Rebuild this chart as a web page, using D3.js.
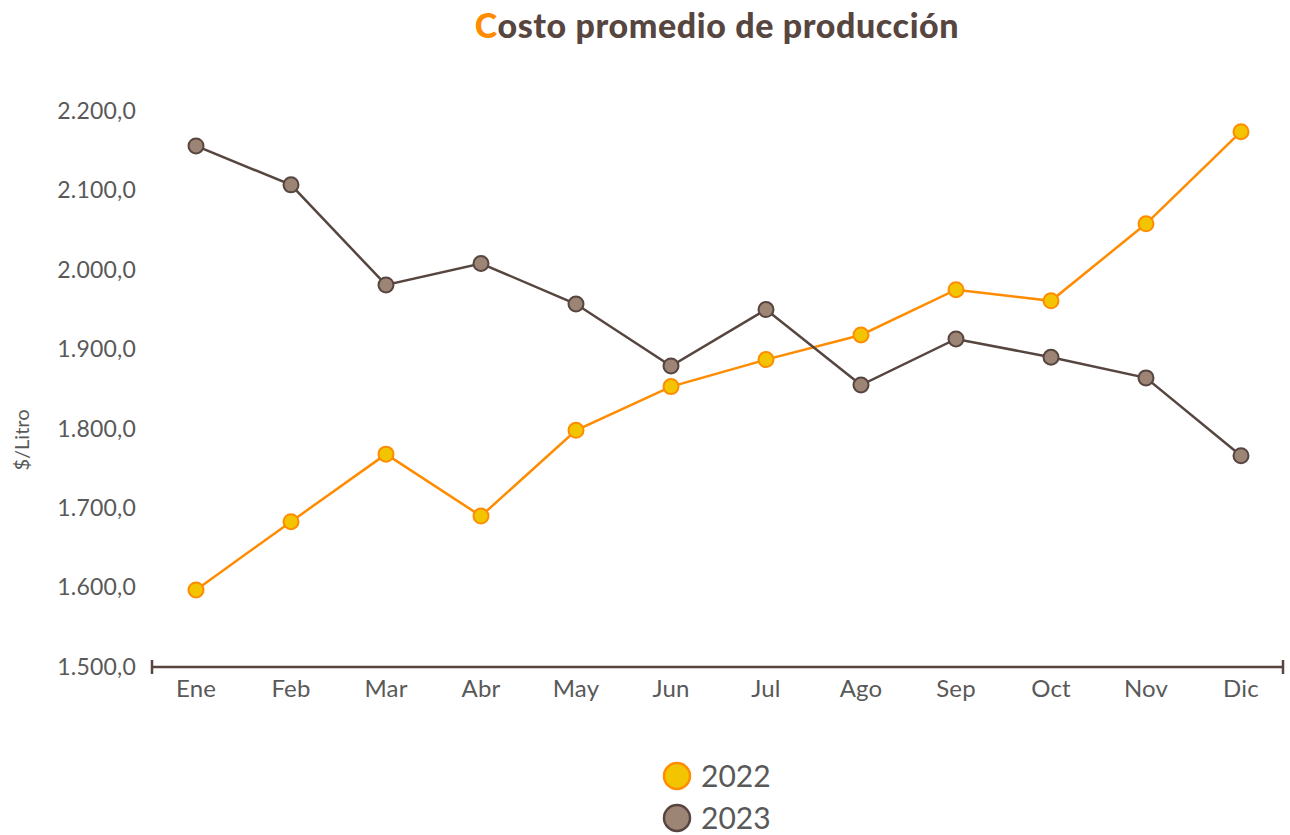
<!DOCTYPE html>
<html>
<head>
<meta charset="utf-8">
<script src="https://cdn.jsdelivr.net/npm/d3@7"></script>
<style>
  html, body { margin: 0; padding: 0; background: #fff; }
  svg { display: block; font-family: "Lato", "Open Sans", sans-serif; }
</style>
</head>
<body>
<svg id="chart" width="1290" height="835"></svg>
<script>
// Months shown on the x axis
const months = ["Ene", "Feb", "Mar", "Abr", "May", "Jun", "Jul", "Ago", "Sep", "Oct", "Nov", "Dic"];
// Average production cost per litre, by year
const cost2022 = [1597, 1683, 1768, 1690, 1798, 1853, 1887, 1918, 1975, 1961, 2058, 2174];
const cost2023 = [2156, 2107, 1981, 2008, 1957, 1879, 1950, 1855, 1913, 1890, 1864, 1766];
const yTicks = [1500, 1600, 1700, 1800, 1900, 2000, 2100, 2200];

const series = [
  { name: "2022", values: cost2022, line: "#ff8c00", fill: "#f2c500", stroke: "#ff8c00" },
  { name: "2023", values: cost2023, line: "#574540", fill: "#9c8575", stroke: "#574540" }
];

const svg = d3.select("#chart");
const textColor = "#595959";
const font = "Lato, sans-serif";

const x = d3.scaleBand().domain(months).range([148.5, 1288.5]);
const y = d3.scaleLinear().domain([1500, 2200]).range([667, 111]);

const fmt = d3.formatLocale({ decimal: ",", thousands: ".", grouping: [3], currency: ["$", ""] }).format(",.1f");

// Title
const title = svg.append("text")
  .attr("x", 717).attr("y", 38)
  .attr("text-anchor", "middle")
  .style("font-family", font)
  .style("font-size", "34px").style("font-weight", 900)
  .style("letter-spacing", "0.6px")
  .attr("fill", "#574540");
title.append("tspan").attr("fill", "#ff8c00").text("C");
title.append("tspan").text("osto promedio de producción");

// Y axis labels (no axis line)
const yAxis = svg.append("g")
  .attr("transform", "translate(136,0)")
  .call(d3.axisLeft(y).tickValues(yTicks).tickFormat(fmt).tickSize(0).tickPadding(0));
yAxis.select(".domain").remove();
yAxis.selectAll("text")
  .attr("fill", textColor)
  .style("font-family", font)
  .style("font-size", "23px")
  .style("font-weight", 400)
  .style("letter-spacing", "0.2px");

// X axis
const xAxis = svg.append("g")
  .attr("transform", "translate(0,667)")
  .call(d3.axisBottom(x).tickSize(0).tickPadding(13));
xAxis.select(".domain").remove();
xAxis.selectAll("text")
  .attr("fill", textColor)
  .style("font-family", font)
  .style("font-size", "24px")
  .style("font-weight", 400)
  .style("letter-spacing", "0.2px");

// Baseline with end caps
const base = svg.append("g").attr("stroke", "#574540").attr("stroke-width", 2.5);
base.append("line").attr("x1", 152).attr("x2", 1283).attr("y1", 667).attr("y2", 667);
base.append("line").attr("x1", 152).attr("x2", 152).attr("y1", 660).attr("y2", 674);
base.append("line").attr("x1", 1283).attr("x2", 1283).attr("y1", 660).attr("y2", 674);

// Y axis title
svg.append("text")
  .attr("transform", "translate(29,440) rotate(-90)")
  .attr("text-anchor", "middle")
  .attr("fill", textColor)
  .style("font-family", font)
  .style("font-size", "20px")
  .text("$/Litro");

const cx = (d, i) => x(months[i]) + x.bandwidth() / 2;
const line = d3.line().x(cx).y(d => y(d));

series.forEach(s => {
  const g = svg.append("g");
  g.append("path")
    .attr("d", line(s.values))
    .attr("fill", "none")
    .attr("stroke", s.line)
    .attr("stroke-width", 2.5);
  g.selectAll("circle")
    .data(s.values)
    .join("circle")
    .attr("cx", cx)
    .attr("cy", d => y(d))
    .attr("r", 7.5)
    .attr("fill", s.fill)
    .attr("stroke", s.stroke)
    .attr("stroke-width", 2);
});

// Legend
const legend = svg.append("g");
series.forEach((s, i) => {
  const ly = 776 + i * 42;
  legend.append("circle")
    .attr("cx", 677).attr("cy", ly).attr("r", 13)
    .attr("fill", s.fill).attr("stroke", s.stroke).attr("stroke-width", 2.5);
  legend.append("text")
    .attr("x", 701).attr("y", ly)
    .attr("dy", "0.36em")
    .attr("fill", textColor)
    .style("font-family", font)
    .style("font-size", "30px")
    .text(s.name);
});
</script>
</body>
</html>
